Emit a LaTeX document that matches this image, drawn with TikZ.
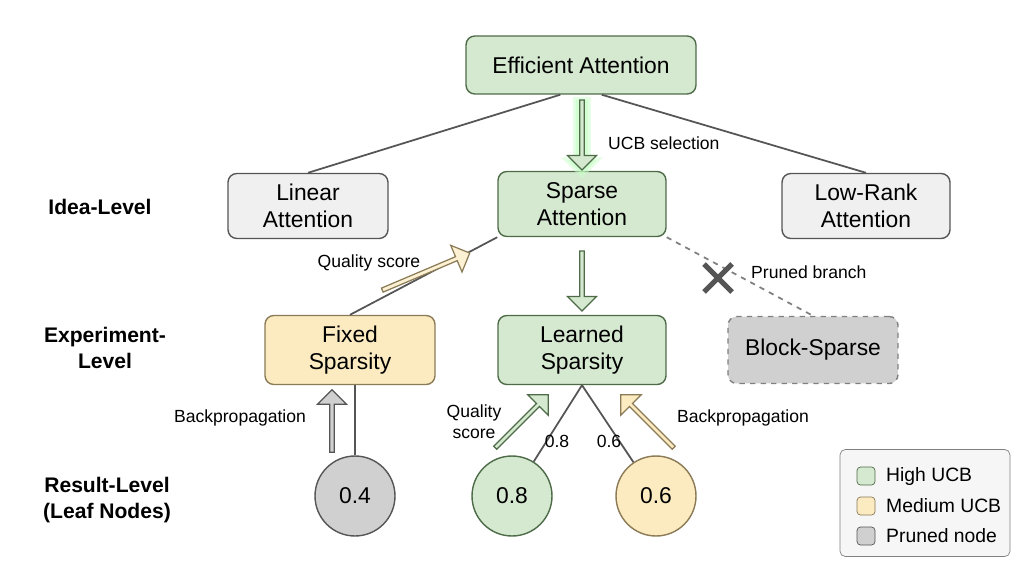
\documentclass[tikz,border=0pt]{standalone}
\usepackage{fontspec}
\setmainfont{Liberation Sans}
\usetikzlibrary{shapes.arrows,arrows.meta}
\definecolor{gfill}{HTML}{D5E8D0}
\definecolor{gdraw}{HTML}{4E6B48}
\definecolor{yfill}{HTML}{FCEBC0}
\definecolor{ydraw}{HTML}{8A7A55}
\definecolor{lgray}{HTML}{F0F0F0}
\definecolor{mgray}{HTML}{D0D0D0}
\definecolor{edge}{HTML}{555555}
\tikzset{
 px/.style={x=0.02cm,y=-0.02cm},
 box/.style={draw=edge,rounded corners=5pt,line width=0.8pt,minimum width=3.36cm,minimum height=1.3cm,align=center,font=\fontsize{13}{15}\selectfont,inner sep=2pt},
 gbox/.style={box,fill=gfill,draw=gdraw},
 ybox/.style={box,fill=yfill,draw=ydraw},
 wbox/.style={box,fill=lgray},
 pbox/.style={box,fill=mgray,dashed,draw=gray},
 leaf/.style={circle,draw=edge,line width=0.8pt,minimum size=1.6cm,font=\fontsize{13}{15}\selectfont},
 lvl/.style={font=\bfseries\fontsize{12}{15}\selectfont,align=center},
 lab/.style={font=\fontsize{10}{12}\selectfont},
 conn/.style={draw=edge,line width=1pt},
 fat/.style={single arrow,draw,line width=0.7pt,inner sep=0pt,minimum width=0.58cm,single arrow head extend=0.07cm,single arrow tip angle=90},
}
\begin{document}
\begin{tikzpicture}[px]
\useasboundingbox (0,0) rectangle (1024,571);
\node[gbox,minimum width=4.6cm,minimum height=1.16cm] (eff) at (581,65) {Efficient Attention};
\node[wbox,minimum width=3.2cm] (lin) at (308,206) {Linear\\Attention};
\node[gbox] (spa) at (582,204) {Sparse\\Attention};
\node[wbox] (low) at (866,206) {Low-Rank\\Attention};
\node[ybox,minimum width=3.4cm,minimum height=1.38cm] (fix) at (350,350) {Fixed\\Sparsity};
\node[gbox,minimum height=1.38cm] (lea) at (582,350) {Learned\\Sparsity};
\node[pbox,minimum width=3.4cm,minimum height=1.34cm] (blk) at (813,350) {Block-Sparse};
\node[leaf,fill=mgray] (c4) at (355,496) {0.4};
\node[leaf,fill=gfill,draw=gdraw] (c8) at (512,496) {0.8};
\node[leaf,fill=yfill,draw=ydraw] (c6) at (656,496) {0.6};
\node[lvl] at (100,207) {Idea-Level};
\node[lvl] at (105,348) {Experiment-\\Level};
\node[lvl] at (107,500) {Result-Level\\(Leaf Nodes)};
% connectors
\draw[conn] (eff.south west)++(95,0) coordinate (e1) -- (lin.north);
\draw[conn] (eff.south east)++(-95,0) coordinate (e2) -- (low.north);
\draw[conn] (spa.south west) -- (fix.north);
\draw[conn,dashed,draw=gray] (spa.south east) -- (blk.north);
\draw[conn] (lea.south) -- (c8);
\draw[conn] (lea.south) -- (c6);
\draw[conn] (c4.north) -- (fix.south -| c4.north);
% fat arrows
\node[fat,minimum height=1.5cm,rotate=-90,fill=green!30,draw=green!20,line width=3pt,opacity=0.5] at (582,134) {};
\node[fat,minimum height=1.4cm,rotate=-90,fill=gfill,draw=gdraw] (a1) at (582,134) {};
\node[lab,anchor=west] at (602,143) {UCB selection};
\node[fat,minimum height=1.2cm,rotate=-90,fill=gfill,draw=gdraw] (a2) at (582,280) {};
\node[fat,minimum height=1.9cm,rotate=23,fill=yfill!70,draw=ydraw] (a3) at (425,272) {};
\node[lab] at (369,263) {Quality score};
\node[fat,minimum height=1.25cm,rotate=90,fill=mgray,draw=edge] (a4) at (332,422) {};
\node[lab] at (240,418) {Backpropagation};
\node[fat,minimum height=1.5cm,rotate=45,fill=gfill,draw=gdraw] (a5) at (521,422) {};
\node[lab,align=center] at (474,422) {Quality\\score};
\node[fat,minimum height=1.5cm,rotate=135,fill=yfill,draw=ydraw] (a6) at (648,422) {};
\node[lab] at (743,418) {Backpropagation};
\node[lab] at (557,441) {0.8};
\node[lab] at (609,441) {0.6};
% pruned mark
\draw[edge,line width=3pt] (704,264) -- (732,292) (732,264) -- (704,292);
\node[lab,anchor=west] at (745,272) {Pruned branch};
% legend
\node[draw=gray,fill=lgray!60,rounded corners=3pt,minimum width=3.4cm,minimum height=2.14cm] (leg) at (925,503) {};
\foreach \y/\c/\d/\t in {476/gfill/gdraw/High UCB,506/yfill/ydraw/Medium UCB,536/mgray/edge/Pruned node}{
 \node[draw=\d,fill=\c,rounded corners=2pt,minimum size=0.36cm,inner sep=0] at (866,\y) {};
 \node[lab,anchor=west,font=\fontsize{11}{13}\selectfont] at (880,\y) {\t};
}
\end{tikzpicture}
\end{document}
